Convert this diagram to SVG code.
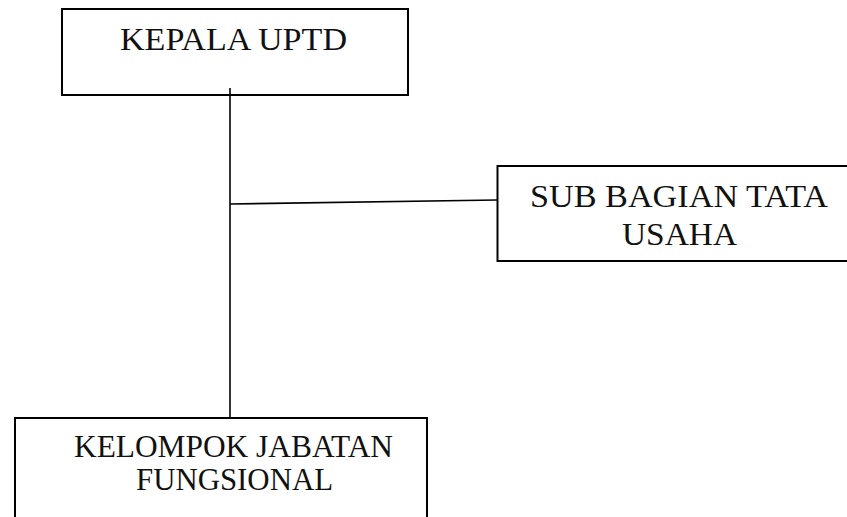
<svg xmlns="http://www.w3.org/2000/svg" width="847" height="517" viewBox="0 0 847 517">
<style>
.box{fill:#fff;stroke:#000;stroke-width:2}
.lbl{font-family:"Liberation Serif","Times New Roman",serif;font-size:32px;fill:#111;text-anchor:middle}
.con{stroke:#000;stroke-width:1.6;fill:none}
</style>
<rect width="847" height="517" fill="#fff"/>
<g id="connectors">
<line class="con" x1="230" y1="88" x2="230" y2="418"/>
<line class="con" x1="230" y1="204" x2="497" y2="200"/>
</g>
<g id="kepala">
<rect class="box" x="62" y="9" width="346" height="86"/>
<line class="con" x1="230" y1="88" x2="230" y2="96"/>
<text class="lbl" x="233.5" y="50" textLength="227" lengthAdjust="spacingAndGlyphs">KEPALA UPTD</text>
</g>
<g id="subbagian">
<rect class="box" x="497.5" y="166" width="370" height="95"/>
<text class="lbl" x="679" y="207" textLength="298" lengthAdjust="spacingAndGlyphs">SUB BAGIAN TATA</text>
<text class="lbl" x="679.5" y="245" textLength="115" lengthAdjust="spacingAndGlyphs">USAHA</text>
</g>
<g id="kelompok">
<rect class="box" x="15" y="418" width="412" height="120"/>
<text class="lbl" x="233.5" y="457" textLength="319" lengthAdjust="spacingAndGlyphs">KELOMPOK JABATAN</text>
<text class="lbl" x="234.5" y="490" textLength="197" lengthAdjust="spacingAndGlyphs">FUNGSIONAL</text>
</g>
</svg>
